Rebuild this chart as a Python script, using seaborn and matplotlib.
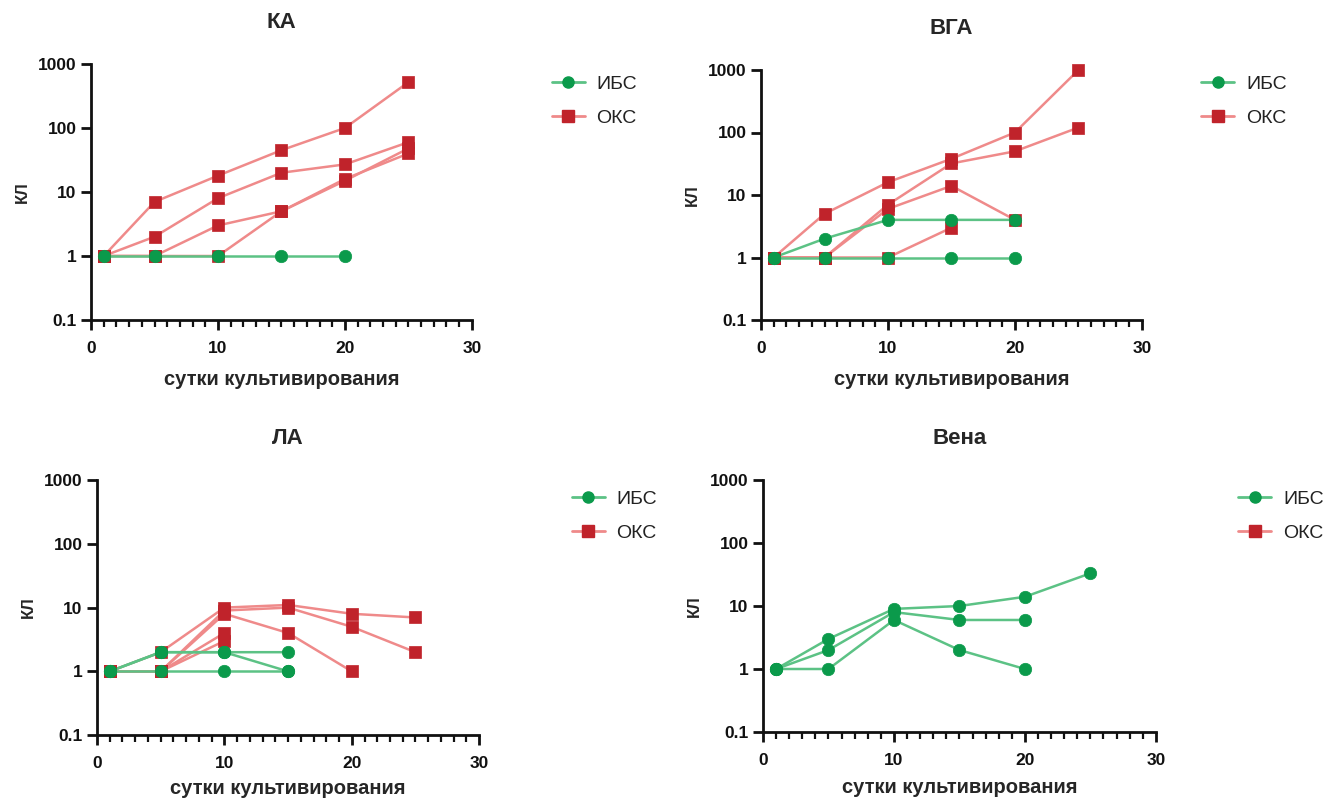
import pandas as pd
import numpy as np
import matplotlib.pyplot as plt
import matplotlib
import seaborn as sn
from matplotlib.lines import Line2D
from matplotlib.ticker import MultipleLocator, FixedLocator, FixedFormatter

# --- data: days of culture and fold-change per run ---
ka_days = [1, 5, 10, 15, 20, 25]
ka_oks = [[1, 7, 18, 45, 100, 520],
          [1, 2, 8, 20, 27, 60],
          [1, 1, 3, 5, 15, 48],
          [1, 1, 1, 5, 16, 40]]
ka_ibs = [[1, 1, 1, 1, 1]]

vga_days = [1, 5, 10, 15, 20, 25]
vga_oks = [[1, 5, 16, 38, 100, 1000],
           [1, 1, 7, 32, 50, 120],
           [1, 1, 6, 14, 4],
           [1, 1, 1, 3]]
vga_ibs = [[1, 2, 4, 4, 4],
           [1, 1, 1, 1, 1]]

la_days = [1, 5, 10, 15, 20, 25]
la_oks = [[1, 2, 10, 11, 8, 7],
          [1, 1, 9, 10, 5, 2],
          [1, 1, 8, 4, 1],
          [1, 1, 4],
          [1, 1, 3]]
la_ibs = [[1, 2, 2, 2],
          [1, 2, 2, 1],
          [1, 1, 1, 1]]

vena_days = [1, 5, 10, 15, 20, 25]
vena_oks = []
vena_ibs = [[1, 3, 9, 10, 14, 33],
            [1, 2, 8, 6, 6],
            [1, 1, 6, 2, 1]]

titles = ['КА', 'ВГА', 'ЛА', 'Вена']
groups = ['ИБС', 'ОКС']
yticks = [0.1, 1, 10, 100, 1000]
ytick_labels = ['0.1', '1', '10', '100', '1000']

line_colors = {'ИБС': '#5cc285', 'ОКС': '#ef8a8a'}
mark_colors = {'ИБС': '#0b9a4b', 'ОКС': '#c0232b'}
markers = {'ИБС': 'o', 'ОКС': 's'}


def to_long(days, oks, ibs):
    rows = []
    for grp, runs in (('ОКС', oks), ('ИБС', ibs)):
        for r, vals in enumerate(runs):
            for d, v in zip(days, vals):
                rows.append({'group': grp, 'run': grp + str(r), 'day': d, 'value': v})
    return pd.DataFrame(rows, columns=['group', 'run', 'day', 'value'])


panels = [to_long(ka_days, ka_oks, ka_ibs),
          to_long(vga_days, vga_oks, vga_ibs),
          to_long(la_days, la_oks, la_ibs),
          to_long(vena_days, vena_oks, vena_ibs)]

sn.set_style('white')
plt.rcParams['font.family'] = ['Liberation Sans', 'DejaVu Sans']

fig = plt.figure(figsize=(13.27, 8), dpi=100)
rects = [[0.0686, 0.600, 0.287, 0.320],
         [0.5735, 0.600, 0.287, 0.3125],
         [0.0731, 0.081, 0.288, 0.319],
         [0.5750, 0.085, 0.296, 0.315]]
legend_pos = [(0.4025, 0.928), (0.892, 0.928), (0.4175, 0.4095), (0.920, 0.4095)]
xlabel_pads = [10, 10, 6, 7]

for i, df in enumerate(panels):
    ax = fig.add_axes(rects[i])
    for grp in ['ОКС', 'ИБС']:
        sub = df[df['group'] == grp]
        if len(sub) == 0:
            continue
        sn.lineplot(data=sub, x='day', y='value', units='run', estimator=None,
                    color=line_colors[grp], lw=1.8, ax=ax, legend=False)
        sn.scatterplot(data=sub, x='day', y='value', color=mark_colors[grp],
                       marker=markers[grp], s=80, edgecolor=mark_colors[grp],
                       linewidth=0.5, ax=ax, legend=False, zorder=3, clip_on=False)
    ax.set_yscale('log')
    ax.set_ylim(0.1, 1000)
    ax.set_xlim(0, 30)
    ax.yaxis.set_major_locator(FixedLocator(yticks))
    ax.yaxis.set_major_formatter(FixedFormatter(ytick_labels))
    ax.yaxis.set_minor_locator(FixedLocator([]))
    ax.xaxis.set_major_locator(MultipleLocator(10))
    ax.xaxis.set_minor_locator(MultipleLocator(1))
    sn.despine(ax=ax)
    for s in ['left', 'bottom']:
        ax.spines[s].set_linewidth(2)
        ax.spines[s].set_color('#111111')
    ax.tick_params(which='major', direction='out', length=7, width=2,
                   labelsize=12.5, colors='#111111', left=True, bottom=True)
    ax.tick_params(axis='x', which='major', pad=8)
    ax.tick_params(which='minor', direction='out', length=5, width=1.6,
                   bottom=True, colors='#111111')
    for lab in ax.get_xticklabels() + ax.get_yticklabels():
        lab.set_fontweight('bold')
    ax.set_title(titles[i], fontsize=16, fontweight='bold', pad=26)
    ax.set_xlabel('сутки культивирования', fontsize=14.5, fontweight='bold',
                  labelpad=xlabel_pads[i])
    ax.set_ylabel('КЛ', fontsize=12, fontweight='bold', labelpad=6)

    handles = [Line2D([], [], color=line_colors[g], lw=2, marker=markers[g],
                      markersize=8, markerfacecolor=mark_colors[g],
                      markeredgecolor=mark_colors[g]) for g in groups]
    fig.legend(handles, groups, loc='upper left', bbox_to_anchor=legend_pos[i],
               frameon=False, fontsize=14, handlelength=1.7, handletextpad=0.6,
               labelspacing=0.85, labelcolor='#222222')

plt.savefig('out.png', dpi=100)
